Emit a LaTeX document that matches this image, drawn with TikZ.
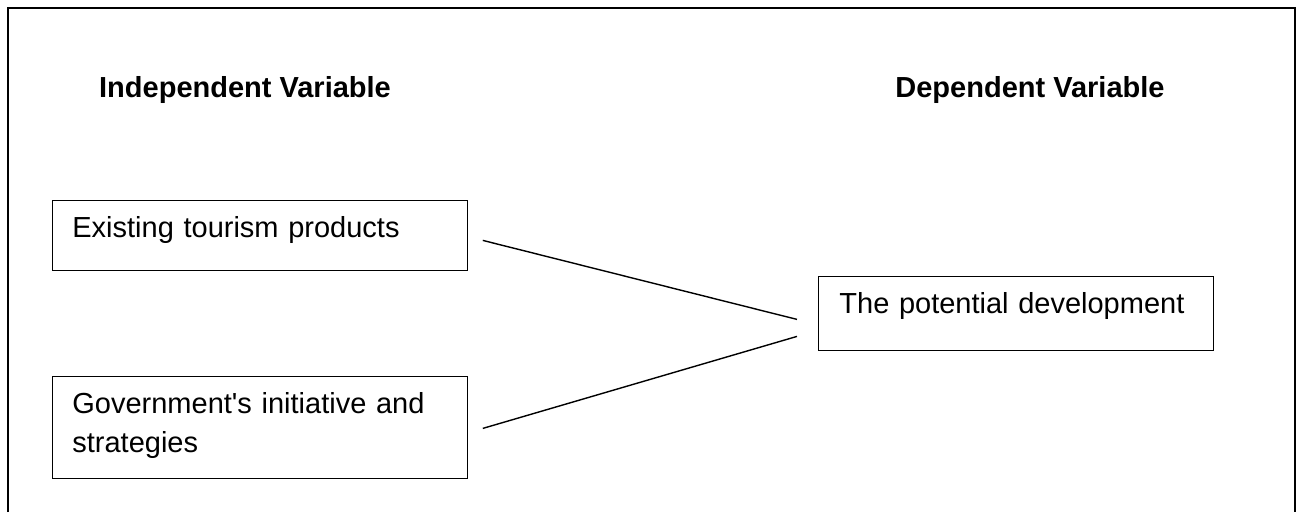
\documentclass[tikz,border=0pt]{standalone}
\usepackage{fontspec}
\setmainfont{Liberation Sans}
\usepackage{tikz}
\usepackage{xcolor}

\begin{document}
\begin{tikzpicture}[x=1pt,y=-1pt,
  varbox/.style={draw,line width=0.8pt,anchor=north west,align=left,inner ysep=0pt,font=\fontsize{29}{39}\selectfont},
  heading/.style={anchor=base,font=\bfseries\fontsize{29}{35}\selectfont},
  link/.style={line width=1.4pt}]
\definecolor{inkblack}{HTML}{000000}
\useasboundingbox (0,0) rectangle (1302,512);
\draw[line width=1.2pt,inkblack] (8,512) |- (1295,8) -- (1295,512);
\node[heading] (indep) at (245,97) {Independent Variable};
\node[heading] (dep) at (1030,97) {Dependent Variable};
\node[varbox,inner xsep=20pt,text width=375pt,text height=37pt,text depth=33pt] (exist) at (52,200) {Existing tourism products};
\node[varbox,inner xsep=20pt,text width=375pt,text height=37pt,text depth=65pt] (govt) at (52,376) {Government\textquotesingle s initiative and\\strategies};
\node[varbox,inner xsep=21pt,text width=353pt,text height=37pt,text depth=37pt] (potential) at (818,276) {The potential development};
  \foreach \src/\dy/\ey in {exist/5/6,govt/1/23}
  {  \draw[link] ([shift={(15,\dy)}]\src.east) -- ([shift={(-21,\ey)}]potential.west);}
\end{tikzpicture}
\end{document}
